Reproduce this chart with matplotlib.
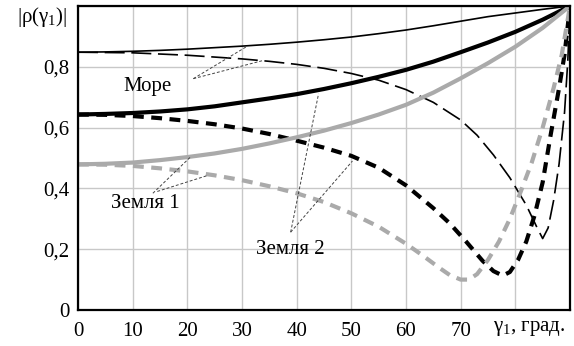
import matplotlib as mpl
mpl.use('Agg')
import matplotlib.pyplot as plt
import numpy as np

plt.rcParams['font.family'] = 'Liberation Serif'
plt.rcParams['mathtext.fontset'] = 'custom'
plt.rcParams['mathtext.rm'] = 'Liberation Serif'
plt.rcParams['mathtext.it'] = 'Liberation Serif'

# угол γ1, град. / |ρ| по кривым
sea_h_x = [0, 5, 10, 15, 20, 25, 30, 35, 40, 45, 50, 55, 60, 65, 70, 75, 80, 85, 90]
sea_h_y = [0.848, 0.849, 0.851, 0.854, 0.858, 0.863, 0.868, 0.874, 0.881, 0.889, 0.898,
           0.909, 0.921, 0.935, 0.95, 0.965, 0.977, 0.989, 1.0]

sea_v_x = [0, 5, 10, 15, 20, 25, 30, 35, 40, 45, 50, 55, 60, 65, 70, 73, 76, 79, 82, 84,
           85, 86, 87, 88, 89, 89.6, 90]
sea_v_y = [0.848, 0.847, 0.846, 0.842, 0.838, 0.832, 0.826, 0.818, 0.808, 0.795, 0.778,
           0.756, 0.725, 0.683, 0.625, 0.575, 0.51, 0.435, 0.345, 0.27, 0.235, 0.27, 0.36,
           0.48, 0.65, 0.82, 1.0]

earth2_h_x = [0, 5, 10, 15, 20, 25, 30, 35, 40, 45, 50, 55, 60, 65, 70, 75, 80, 85, 90]
earth2_h_y = [0.643, 0.645, 0.648, 0.653, 0.66, 0.67, 0.683, 0.696, 0.71, 0.727, 0.746,
              0.767, 0.79, 0.817, 0.848, 0.88, 0.915, 0.955, 1.0]

earth2_v_x = [0, 5, 10, 15, 20, 25, 30, 35, 40, 45, 50, 55, 60, 65, 68, 71, 74, 76, 77.7,
              79, 80.5, 82, 83.5, 85, 86.5, 88, 89, 90]
earth2_v_y = [0.643, 0.642, 0.638, 0.631, 0.622, 0.611, 0.597, 0.579, 0.557, 0.534, 0.507,
              0.468, 0.41, 0.335, 0.285, 0.225, 0.162, 0.128, 0.113, 0.125, 0.165, 0.225,
              0.31, 0.42, 0.58, 0.73, 0.84, 1.0]

earth1_h_x = [0, 5, 10, 15, 20, 25, 30, 35, 40, 45, 50, 55, 60, 65, 70, 75, 80, 85, 90]
earth1_h_y = [0.479, 0.481, 0.485, 0.493, 0.503, 0.515, 0.53, 0.548, 0.568, 0.59, 0.615,
              0.643, 0.675, 0.715, 0.762, 0.812, 0.866, 0.928, 1.0]

earth1_v_x = [0, 5, 10, 15, 20, 25, 30, 35, 40, 45, 50, 55, 60, 63, 66, 68, 70, 71.5, 73,
              75, 77, 79, 81, 83, 85, 87, 88.5, 90]
earth1_v_y = [0.479, 0.478, 0.474, 0.466, 0.456, 0.443, 0.427, 0.407, 0.384, 0.355, 0.318,
              0.274, 0.218, 0.18, 0.14, 0.115, 0.1, 0.1, 0.118, 0.165, 0.225, 0.3, 0.39,
              0.485, 0.6, 0.73, 0.84, 1.0]

xticks = [0, 10, 20, 30, 40, 50, 60, 70, 80, 90]
xticklabels = ['0', '10', '20', '30', '40', '50', '60', '70', '', '']
yticks = [0, 0.2, 0.4, 0.6, 0.8, 1.0]
yticklabels = ['0', '0,2', '0,4', '0,6', '0,8', '']

gray = '#aaaaaa'

fig = plt.figure(figsize=(5.74, 3.46), dpi=100)
ax = fig.add_axes([78 / 574, 1 - 310 / 346, 492 / 574, 304 / 346])

ax.plot(sea_h_x, sea_h_y, color='black', lw=1.2)
ax.plot(sea_v_x, sea_v_y, color='black', lw=1.2, dashes=(12, 4))
ax.plot(earth2_h_x, earth2_h_y, color='black', lw=3.0)
ax.plot(earth2_v_x, earth2_v_y, color='black', lw=3.0, dashes=(2.6, 1.8))
ax.plot(earth1_h_x, earth1_h_y, color=gray, lw=3.0)
ax.plot(earth1_v_x, earth1_v_y, color=gray, lw=3.0, dashes=(2.6, 1.8))

# выноски к подписям
lead = dict(color='#444444', lw=0.7, ls=(0, (3, 2)))
ax.plot([21.1, 30.8], [0.761, 0.866], **lead)
ax.plot([21.1, 33.7], [0.761, 0.82], **lead)
ax.plot([13.7, 20.5], [0.384, 0.502], **lead)
ax.plot([14.5, 23.8], [0.39, 0.443], **lead)
ax.plot([38.9, 44.0], [0.256, 0.711], **lead)
ax.plot([38.9, 50.2], [0.256, 0.49], **lead)

ax.text(12.7, 0.735, 'Море', fontsize=15, ha='center', va='center')
ax.text(12.3, 0.351, 'Земля 1', fontsize=15, ha='center', va='center')
ax.text(38.9, 0.2, 'Земля 2', fontsize=15, ha='center', va='center')

ax.set_xlim(0, 90)
ax.set_ylim(0, 1.0)
ax.set_xticks(xticks)
ax.set_xticklabels(xticklabels)
ax.set_yticks(yticks)
ax.set_yticklabels(yticklabels)
ax.tick_params(length=0, labelsize=15)
ax.tick_params(axis='x', pad=9)
ax.tick_params(axis='y', pad=6)
ax.grid(True, color='#c8c8c8', lw=1.0)
ax.set_axisbelow(True)
for s in ax.spines.values():
    s.set_linewidth(1.6)

fig.text(42 / 574, 1 - 17 / 346, r'$|\mathrm{\rho}(\mathrm{\gamma}_1)|$', fontsize=15,
         ha='center', va='center')
fig.text(529 / 574, 1 - 329 / 346, r'$\mathrm{\gamma}_1$, град.', fontsize=15,
         ha='center', va='center')

plt.savefig('out.png', dpi=100)
